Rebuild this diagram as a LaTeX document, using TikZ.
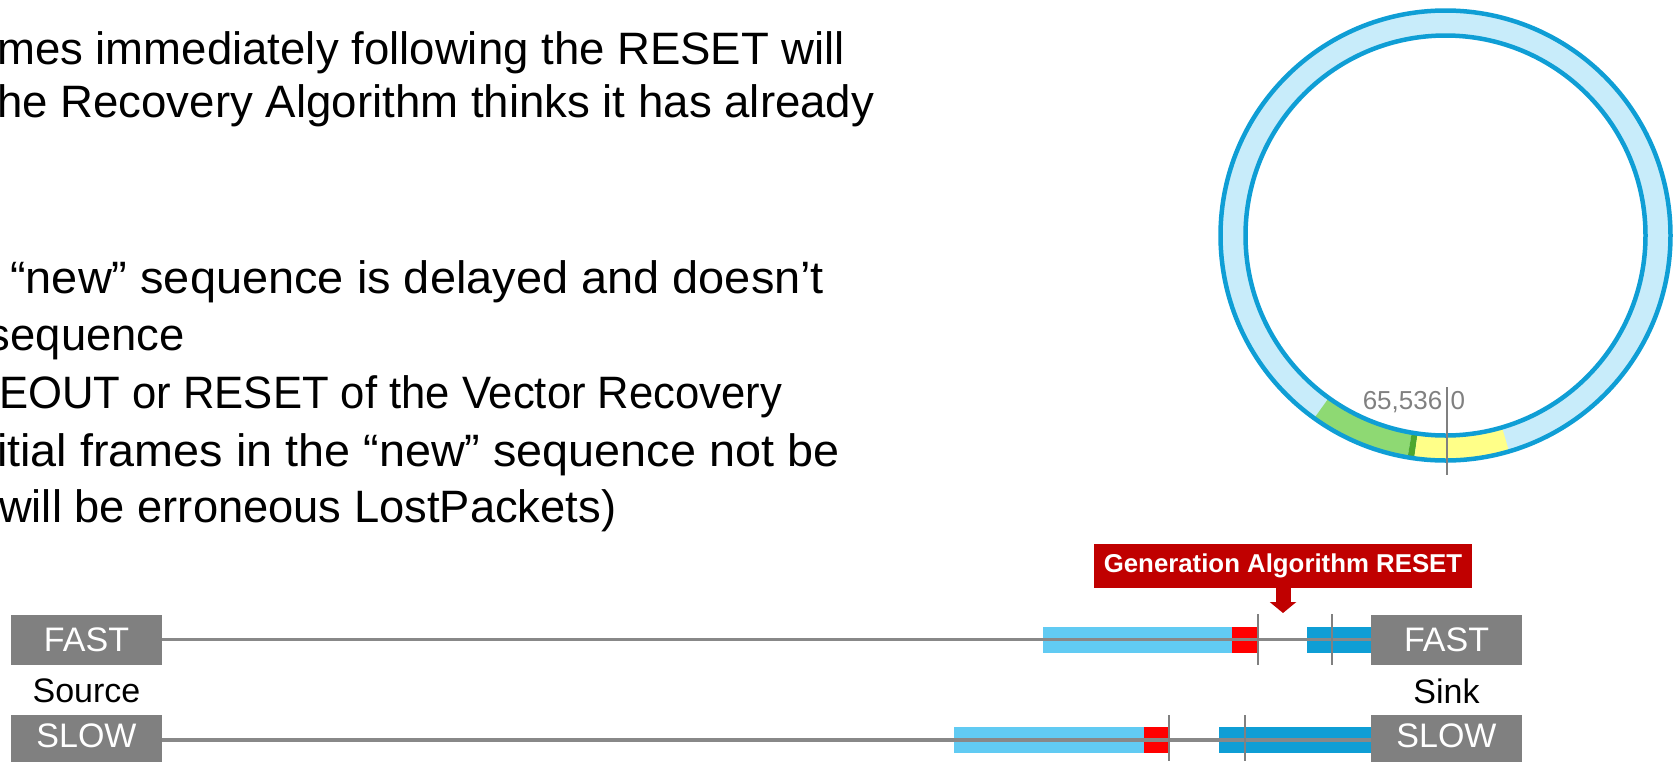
\documentclass[tikz,border=0pt]{standalone}
\usepackage{fontspec}
\setmainfont{Liberation Sans}
\usetikzlibrary{arrows.meta}
\definecolor{boxGrey}{HTML}{808080}
\definecolor{wireGrey}{HTML}{888888}
\definecolor{lightBlue}{HTML}{61CBF3}
\definecolor{darkBlue}{HTML}{0F9ED5}
\definecolor{ringFill}{HTML}{C8ECFA}
\definecolor{lightGreen}{HTML}{8ED973}
\definecolor{darkGreen}{HTML}{4EA72E}
\definecolor{paleYellow}{HTML}{FFFF88}
\definecolor{resetRed}{HTML}{C00000}
\definecolor{frameRed}{HTML}{FF0000}
\newcommand{\fitline}[2]{\resizebox{#1}{\height}{#2}}
\begin{document}
\begin{tikzpicture}[x=1pt,y=-1pt,
  bodytext/.style={inner sep=0pt, anchor=base west, font=\fontsize{45.4pt}{50pt}\selectfont},
  endpoint/.style={fill=boxGrey, text=white, minimum width=151pt, minimum height=50pt, inner sep=0pt, font=\fontsize{34pt}{40pt}\selectfont},
  boxtext/.style={inner sep=0pt, text=white, font=\fontsize{34pt}{40pt}\selectfont},
  roletext/.style={inner sep=0pt, text=black, font=\fontsize{34pt}{40pt}\selectfont},
  numtext/.style={inner sep=0pt, text=boxGrey, font=\fontsize{26pt}{30pt}\selectfont},
  wire/.style={draw=wireGrey, line width=3.5pt},
  tickmark/.style={draw=boxGrey, line width=2pt},
  ringline/.style={draw=darkBlue, line width=4.5pt, line join=round},
  resetlabel/.style={fill=resetRed, text=white, minimum width=378pt, minimum height=44pt, inner sep=0pt, font=\bfseries\fontsize{25.8pt}{30pt}\selectfont},
  resetarrow/.style={draw=resetRed, line width=15pt, -{Triangle[length=11pt, width=26pt]}}
]
\useasboundingbox (0,0) rectangle (1674,761);
\clip (0,0) rectangle (1674,761);

% body text
\node[bodytext] (t1) at (-3,64.5) {\fitline{848pt}{mes immediately following the RESET will}};
\node[bodytext] (t2) at (-3,117) {\fitline{877pt}{he Recovery Algorithm thinks it has already}};
\node[bodytext] (t3) at (10,293) {\fitline{814pt}{“new” sequence is delayed and doesn’t}};
\node[bodytext, anchor=base east] (t4) at (185,350) {sequence};
\node[bodytext] (t5) at (-1,408.5) {\fitline{783pt}{EOUT or RESET of the Vector Recovery}};
\node[bodytext] (t6) at (-3,466) {\fitline{842pt}{itial frames in the “new” sequence not be}};
\node[bodytext] (t7) at (-1,522.5) {\fitline{617pt}{will be erroneous LostPackets)}};

% sequence-number ring
\begin{scope}[shift={(1445.5,235.5)}]
  \fill[ringFill, even odd rule]
      (270:225pt) arc[start angle=270, delta angle=360, radius=225pt] -- cycle
      (270:200pt) arc[start angle=270, delta angle=360, radius=200pt] -- cycle;
  \fill[lightGreen] (234.3:200pt) arc[start angle=234.3, end angle=260.3, radius=200pt]
      -- (260.3:225pt) arc[start angle=260.3, end angle=234.3, radius=225pt] -- cycle;
  \fill[darkGreen] (260.3:200pt) arc[start angle=260.3, end angle=262.0, radius=200pt]
      -- (262.0:225pt) arc[start angle=262.0, end angle=260.3, radius=225pt] -- cycle;
  \fill[paleYellow] (262.0:200pt) arc[start angle=262.0, end angle=286.4, radius=200pt]
      -- (286.4:225pt) arc[start angle=286.4, end angle=262.0, radius=225pt] -- cycle;
  \draw[ringline] (270:225pt) arc[start angle=270, delta angle=360, radius=225pt] -- cycle;
  \draw[ringline] (270:200pt) arc[start angle=270, delta angle=360, radius=200pt] -- cycle;
\end{scope}
\coordinate (wrapTop) at (1447,387);
\coordinate (wrapBot) at (1447,475);
\draw[tickmark] (wrapTop) -- (wrapBot);
\node[numtext, anchor=base east] (wrapHigh) at (1442.5,409) {65,536};
\node[numtext, anchor=base west] (wrapLow) at (1450.5,409) {0};

% frame bars, FAST path
\fill[lightBlue] (1043,627) rectangle (1232,653);
\fill[frameRed] (1232,627) rectangle (1257,653);
\fill[darkBlue] (1307,627) rectangle (1371,653);
% frame bars, SLOW path
\fill[lightBlue] (954,727) rectangle (1144,753);
\fill[frameRed] (1144,727) rectangle (1168,753);
\fill[darkBlue] (1219,727) rectangle (1371,753);

% endpoints
\node[endpoint] (srcFast) at (86.5,639.5) {FAST};
\node[endpoint] (sinkFast) at (1446.5,639.5) {FAST};
\node[endpoint] (srcSlow) at (86.5,740) {};
\node[endpoint] (sinkSlow) at (1446.5,740) {};
\node[boxtext] (srcSlowTxt) at (86.5,735.5) {SLOW};
\node[boxtext] (sinkSlowTxt) at (1446.5,735.5) {SLOW};
\node[roletext] (srcRole) at (86.5,691) {Source};
\node[roletext] (sinkRole) at (1446.5,691) {Sink};

% paths
\draw[wire] (srcFast.east) -- (sinkFast.west);
\draw[wire] (srcSlow.east) -- (sinkSlow.west);

% ticks
\draw[tickmark] (1258,614) -- (1258,665);
\draw[tickmark] (1332,614) -- (1332,665);
\draw[tickmark] (1169,715) -- (1169,761);
\draw[tickmark] (1245,715) -- (1245,761);

% reset label
\node[resetlabel] (resetLbl) at (1283,566) {Generation Algorithm RESET};
\coordinate (resetTip) at (1283,613);
\draw[resetarrow] (resetLbl.south) -- (resetTip);
\end{tikzpicture}
\end{document}
